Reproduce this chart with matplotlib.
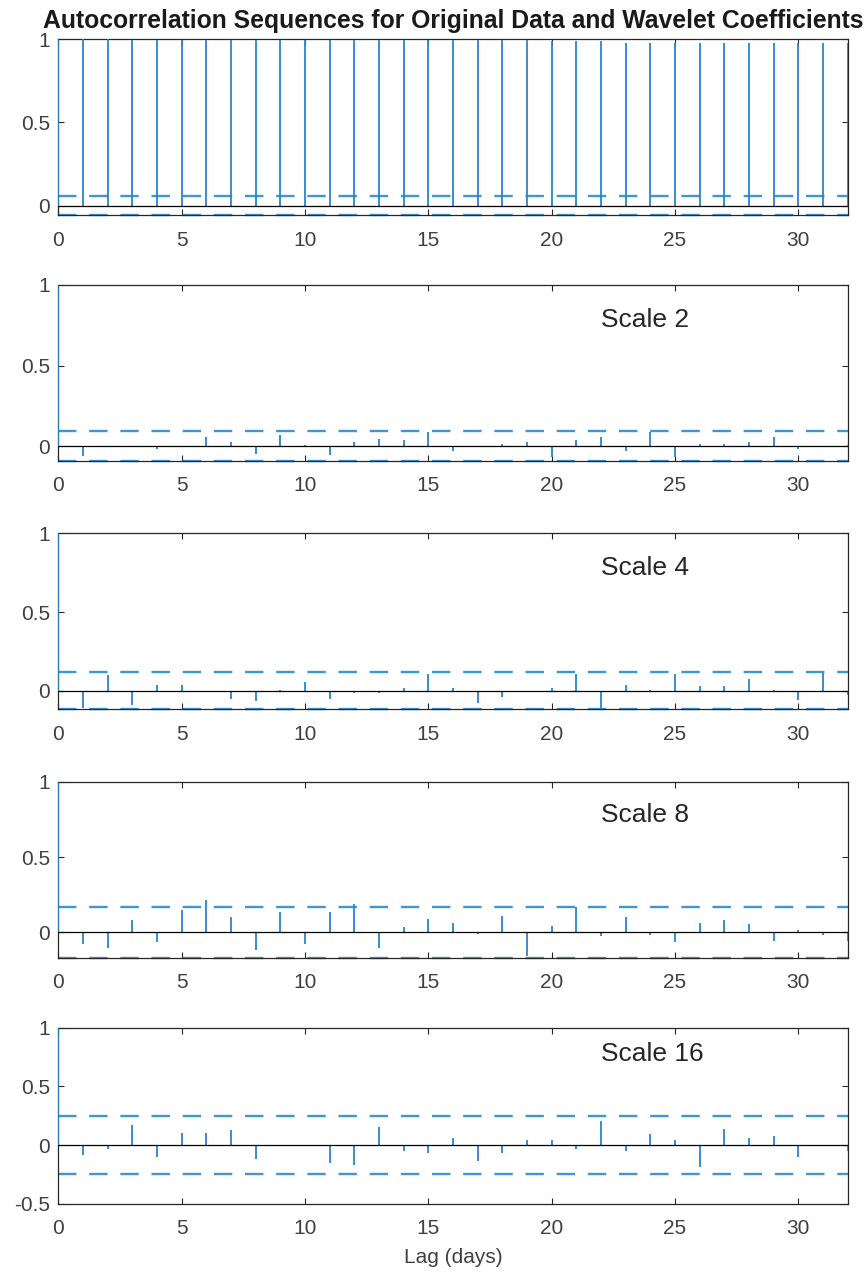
import matplotlib
matplotlib.use("Agg")
import matplotlib.pyplot as plt
import numpy as np

plt.rcParams['font.family'] = ['Liberation Sans', 'DejaVu Sans']

# ---------------- data ----------------
lags = list(range(33))

acf_original = [1.000, 0.999, 0.999, 0.998, 0.998, 0.997, 0.997, 0.997, 0.996, 0.996,
                0.996, 0.995, 0.995, 0.995, 0.994, 0.994, 0.994, 0.993, 0.993, 0.993,
                0.992, 0.992, 0.992, 0.979, 0.979, 0.979, 0.979, 0.978, 0.978, 0.978,
                0.978, 0.977, 0.977]

acf_scale2 = [1.000, -0.0625, 0.004, -0.004, -0.015, 0.003, 0.056, 0.027, -0.046, 0.070,
              0.010, -0.052, 0.027, 0.046, 0.040, 0.090, -0.031, 0.003, 0.015, 0.027,
              -0.065, 0.040, 0.058, -0.031, 0.090, -0.065, 0.015, 0.015, 0.027, 0.058,
              -0.020, 0.002, 0.005]

acf_scale4 = [1.000, -0.108, 0.100, -0.092, 0.0375, 0.0375, -0.010, -0.050, -0.067, 0.003,
              0.054, -0.050, -0.015, -0.015, 0.017, 0.104, 0.017, -0.077, -0.040, -0.003,
              0.017, 0.104, -0.108, 0.0375, 0.003, 0.104, 0.033, 0.027, 0.073, 0.002,
              -0.056, 0.110, -0.025]

acf_scale8 = [1.000, -0.077, -0.103, 0.081, -0.066, 0.147, 0.213, 0.099, -0.116, 0.136,
              -0.077, 0.136, 0.186, -0.103, 0.033, 0.092, 0.060, -0.010, 0.110, -0.160,
              0.044, 0.171, -0.022, 0.099, -0.015, -0.066, 0.060, 0.081, 0.055, -0.055,
              0.015, -0.015, -0.055]

acf_scale16 = [1.000, -0.086, -0.030, 0.171, -0.103, 0.106, 0.106, 0.126, -0.123, 0.003,
               -0.004, -0.157, -0.174, 0.154, -0.051, -0.071, 0.057, -0.137, -0.071, 0.040,
               0.040, -0.037, 0.206, -0.051, 0.091, 0.040, -0.189, 0.140, 0.057, 0.077,
               -0.103, 0.002, -0.050]

conf_bounds = [0.058, 0.092, 0.118, 0.168, 0.250]
panel_labels = [None, "Scale 2", "Scale 4", "Scale 8", "Scale 16"]
xticks = [0, 5, 10, 15, 20, 25, 30]
yticks_std = [0, 0.5, 1]
yticklabels_std = ["0", "0.5", "1"]
yticks_last = [-0.5, 0, 0.5, 1]
yticklabels_last = ["-0.5", "0", "0.5", "1"]
ylim_last_bottom = -0.5

title = "Autocorrelation Sequences for Original Data and Wavelet Coefficients"
xlabel = "Lag (days)"

series = [acf_original, acf_scale2, acf_scale4, acf_scale8, acf_scale16]

# ---------------- layout ----------------
W, H = 866, 1277
fig = plt.figure(figsize=(W / 100, H / 100), dpi=100)
left_px, right_px = 58.3, 847.7
tops_px = [39.3, 285.0, 533.3, 781.7, 1027.7]
height_px = 176.0

stem_color = '#2785cb'
dash_color = '#3d97d6'
axis_color = '#262626'

for i, vals in enumerate(series):
    top = tops_px[i]
    ax = fig.add_axes([left_px / W, 1 - (top + height_px) / H,
                       (right_px - left_px) / W, height_px / H])
    conf = conf_bounds[i]
    ax.set_xlim(lags[0], lags[-1])
    if i == len(series) - 1:
        ax.set_ylim(ylim_last_bottom, 1)
        ax.set_yticks(yticks_last)
        ax.set_yticklabels(yticklabels_last)
    else:
        ax.set_ylim(-conf, 1)
        ax.set_yticks(yticks_std)
        ax.set_yticklabels(yticklabels_std)
    ax.set_xticks(xticks)
    ax.set_xticklabels([str(t) for t in xticks])

    ax.vlines(lags, 0, vals, color=stem_color, lw=1.3, zorder=3)
    ax.axhline(0, color='black', lw=0.9, zorder=4)
    for c in (conf, -conf):
        ax.plot([lags[0], lags[-1]], [c, c], color=dash_color, lw=1.7,
                linestyle=(0, (7.8, 5.4)), zorder=2, clip_on=False,
                dash_capstyle='butt')

    for sp in ax.spines.values():
        sp.set_color(axis_color)
        sp.set_linewidth(0.9)
    ax.tick_params(direction='in', top=True, right=True, length=4, width=0.8,
                   color=axis_color, labelcolor='#404040', labelsize=15)
    ax.tick_params(axis='x', pad=11)
    ax.tick_params(axis='y', pad=6)

    if panel_labels[i]:
        ax.text(22.0, 0.78, panel_labels[i], fontsize=19, color=axis_color,
                va='center', ha='left')
    if i == 0:
        ax.set_title(title, fontsize=17.8, fontweight='bold', color='#1a1a1a', pad=8)
    if i == len(series) - 1:
        ax.set_xlabel(xlabel, fontsize=15, color='#404040', labelpad=7)

fig.savefig("out.png", dpi=100)
